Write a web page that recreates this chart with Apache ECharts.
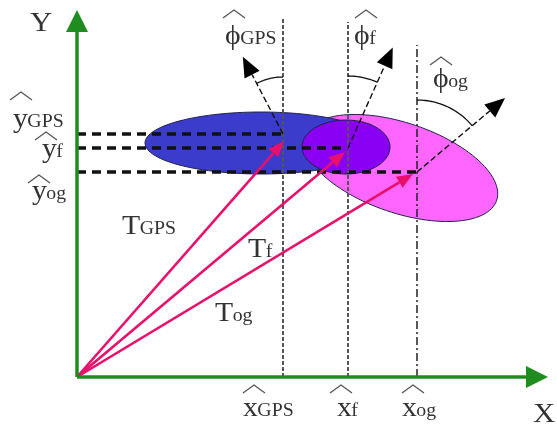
<!DOCTYPE html>
<html><head><meta charset="utf-8">
<script src="https://cdn.jsdelivr.net/npm/echarts@6/dist/echarts.min.js"></script>
<style>html,body{margin:0;padding:0;background:#fff}#c{width:557px;height:430px}</style>
</head><body><div id="c"></div>
<script>
// ---- data (units: origin of the X/Y frame at 0,0) ----
const estimateKeys = ['GPS', 'f', 'og'];
const xHat = [206, 271, 340];
const yHat = [243, 229, 205];
const xLineTop = [359, 355, 332];
const tEndX = [207, 268, 336];
const tEndY = [236, 225, 203];
const headingDeg = [-27.5, 24, 50];
const headingLen = [87, 110, 115];
const arcRadius = [57, 72, 72];

// ellipses, in drawing order
const ellipseNames = ['og', 'GPS', 'f'];
const ellipseCx = [324, 184, 269];
const ellipseCy = [209, 234, 230];
const ellipseRx = [101, 116, 44];
const ellipseRy = [45, 31, 27];
const ellipseRot = [-18.7, 0, 0];

const axisTipX = 471;
const axisTipY = 367;

// labels
const labelMain = ['Y', 'X', 'x', 'x', 'x', 'y', 'y', 'y', 'T', 'T', 'T', 'ϕ', 'ϕ', 'ϕ'];
const labelSub  = ['', '', 'GPS', 'f', 'og', 'GPS', 'f', 'og', 'GPS', 'f', 'og', 'GPS', 'f', 'og'];
const labelHat  = [0, 0, 1, 1, 1, 1, 1, 1, 0, 0, 0, 1, 1, 1];

// ---- layout (not data) ----
const labelX = [-47, 456, 166, 260, 325, -64, -35, -45, 45, 171, 138, 148, 277, 356];
const labelY = [345, -46, -40, -40, -40, 249, 219, 177, 142, 119, 55, 332, 332, 289];
const hatX   = [0, 0, 166, 253, 325, -67, -42, -49, 0, 0, 0, 146, 278, 353];
const hatY   = [0, 0, -16, -16, -16, 277, 237, 194, 0, 0, 0, 359, 359, 312];
const ellipseColor = ['#ff66ff', '#3b3bcc', '#8a00f5'];
const green = '#1f8c1f';
const pinkArrow = '#e8106a';
const font = "'Liberation Serif','Times New Roman',serif";
const mainSize = 27, subSize = 18, stretch = 1.1;
const baseShift = 0.3; // em-middle to alphabetic baseline

const mctx = document.createElement('canvas').getContext('2d');
function textW(t, s) { mctx.font = s + 'px ' + font; return mctx.measureText(t).width * stretch; }

function head(p0, p1, L, W) {
  const dx = p1[0] - p0[0], dy = p1[1] - p0[1];
  const d = Math.hypot(dx, dy), ux = dx / d, uy = dy / d;
  const bx = p1[0] - ux * L, by = p1[1] - uy * L;
  return {
    base: [bx, by],
    pts: [p1, [bx - uy * W / 2, by + ux * W / 2], [bx + uy * W / 2, by - ux * W / 2]]
  };
}

const chart = echarts.init(document.getElementById('c'), null, {renderer: 'canvas'});
const series = [];

// ellipses
series.push({
  type: 'custom', coordinateSystem: 'cartesian2d', z: 1,
  data: ellipseNames.map((n, i) => [ellipseCx[i], ellipseCy[i], ellipseRx[i], ellipseRy[i], ellipseRot[i]]),
  renderItem(params, api) {
    const cx = api.value(0), cy = api.value(1), rx = api.value(2), ry = api.value(3), rot = api.value(4) * Math.PI / 180;
    const pts = [];
    for (let k = 0; k < 120; k++) {
      const t = k / 120 * 2 * Math.PI, ex = rx * Math.cos(t), ey = ry * Math.sin(t);
      pts.push(api.coord([cx + ex * Math.cos(rot) - ey * Math.sin(rot), cy + ex * Math.sin(rot) + ey * Math.cos(rot)]));
    }
    return {type: 'polygon', shape: {points: pts}, style: {fill: ellipseColor[params.dataIndex], stroke: '#22224a', lineWidth: 1}};
  }
});

// horizontal dashed lines
series.push({
  type: 'custom', coordinateSystem: 'cartesian2d', z: 2,
  data: estimateKeys.map((k, i) => [xHat[i], yHat[i]]),
  renderItem(params, api) {
    const a = api.coord([0, api.value(1)]), b = api.coord([api.value(0), api.value(1)]);
    return {type: 'line', shape: {x1: a[0], y1: a[1], x2: b[0], y2: b[1]}, style: {stroke: '#111', lineWidth: 3.5, lineDash: [9, 6]}};
  }
});

// vertical dashed lines
series.push({
  type: 'custom', coordinateSystem: 'cartesian2d', z: 2,
  data: estimateKeys.map((k, i) => [xHat[i], xLineTop[i]]),
  renderItem(params, api) {
    const a = api.coord([api.value(0), 0]), b = api.coord([api.value(0), api.value(1)]);
    const i = params.dataIndex;
    const st = i === 2 ? {stroke: '#222', lineWidth: 1.5, lineDash: [8, 3, 2, 3]} : {stroke: '#555', lineWidth: 2, lineDash: [4, 2]};
    return {type: 'line', shape: {x1: a[0], y1: a[1], x2: b[0], y2: b[1]}, style: st};
  }
});

// T vectors
series.push({
  type: 'custom', coordinateSystem: 'cartesian2d', z: 3,
  data: estimateKeys.map((k, i) => [tEndX[i], tEndY[i]]),
  renderItem(params, api) {
    const o = api.coord([0, 0]), p = api.coord([api.value(0), api.value(1)]);
    const h = head(o, p, 16, 13);
    return {type: 'group', children: [
      {type: 'line', shape: {x1: o[0], y1: o[1], x2: h.base[0], y2: h.base[1]}, style: {stroke: pinkArrow, lineWidth: 2.6}},
      {type: 'polygon', shape: {points: h.pts}, style: {fill: pinkArrow}}
    ]};
  }
});

// heading arrows + arcs
series.push({
  type: 'custom', coordinateSystem: 'cartesian2d', z: 4,
  data: estimateKeys.map((k, i) => [xHat[i], yHat[i], headingDeg[i], headingLen[i], arcRadius[i]]),
  renderItem(params, api) {
    const x = api.value(0), y = api.value(1), al = api.value(2) * Math.PI / 180, len = api.value(3), r = api.value(4);
    const s = api.coord([x, y]), t = api.coord([x + len * Math.sin(al), y + len * Math.cos(al)]);
    const h = head(s, t, 20, 17);
    const arc = [];
    for (let k = 0; k <= 30; k++) {
      const a = al * k / 30;
      arc.push(api.coord([x + r * Math.sin(a), y + r * Math.cos(a)]));
    }
    return {type: 'group', children: [
      {type: 'line', shape: {x1: s[0], y1: s[1], x2: h.base[0], y2: h.base[1]}, style: {stroke: '#111', lineWidth: 1.4, lineDash: [6, 3]}},
      {type: 'polygon', shape: {points: h.pts}, style: {fill: '#000'}},
      {type: 'polyline', shape: {points: arc}, style: {stroke: '#111', lineWidth: 1.3, fill: null}}
    ]};
  }
});

// axes
series.push({
  type: 'custom', coordinateSystem: 'cartesian2d', z: 5,
  data: [[axisTipX, 0], [0, axisTipY]],
  renderItem(params, api) {
    const o = api.coord([0, 0]), p = api.coord([api.value(0), api.value(1)]);
    const h = head(o, p, 22, 22);
    return {type: 'group', children: [
      {type: 'line', shape: {x1: o[0], y1: o[1], x2: h.base[0], y2: h.base[1]}, style: {stroke: green, lineWidth: 3.5}},
      {type: 'polygon', shape: {points: h.pts}, style: {fill: green}}
    ]};
  }
});

// labels
series.push({
  type: 'custom', coordinateSystem: 'cartesian2d', z: 6,
  data: labelMain.map((m, i) => [labelX[i], labelY[i], hatX[i], hatY[i]]),
  renderItem(params, api) {
    const i = params.dataIndex;
    const p = api.coord([api.value(0), api.value(1)]);
    const main = labelMain[i], sub = labelSub[i];
    const big = (i < 2) ? 28 : mainSize;
    const kids = [
      {type: 'text', x: p[0], y: p[1] - baseShift * big, scaleX: stretch,
        style: {text: main, font: big + 'px ' + font, fill: '#333', verticalAlign: 'middle', align: 'left'}}
    ];
    if (sub) {
      kids.push({type: 'text', x: p[0] + textW(main, big) - 0.5, y: p[1] - baseShift * subSize, scaleX: stretch,
        style: {text: sub, font: subSize + 'px ' + font, fill: '#333', verticalAlign: 'middle', align: 'left'}});
    }
    if (labelHat[i]) {
      const hp = api.coord([api.value(2), api.value(3)]);
      kids.push({type: 'polyline', shape: {points: [[hp[0], hp[1]], [hp[0] + 11, hp[1] - 8], [hp[0] + 22, hp[1]]]},
        style: {stroke: '#555', lineWidth: 1.3, fill: null}});
    }
    return {type: 'group', children: kids};
  }
});

chart.setOption({
  animation: false,
  backgroundColor: '#fff',
  grid: {left: 0, right: 0, top: 0, bottom: 0},
  xAxis: {type: 'value', min: -77, max: 480, show: false},
  yAxis: {type: 'value', min: -53, max: 377, show: false},
  series: series
});
</script>
</body></html>
